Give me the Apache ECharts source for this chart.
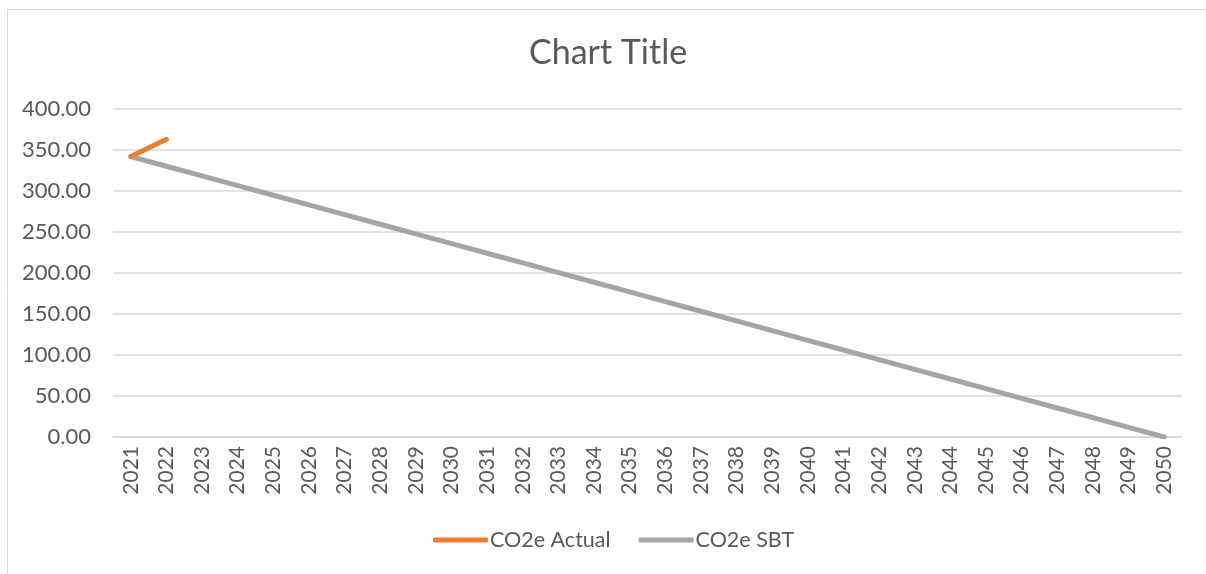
<!DOCTYPE html>
<html><head><meta charset="utf-8">
<script src="https://cdn.jsdelivr.net/npm/echarts@6/dist/echarts.min.js"></script>
<style>html,body{margin:0;padding:0;background:#fff;}#c{width:1206px;height:574px;}</style>
</head><body><div id="c"></div>
<script>
const years = ['2021','2022','2023','2024','2025','2026','2027','2028','2029','2030','2031','2032','2033','2034','2035','2036','2037','2038','2039','2040','2041','2042','2043','2044','2045','2046','2047','2048','2049','2050'];
const co2eActual = [342, 363];
const co2eSBT = [342.00,330.21,318.41,306.62,294.83,283.03,271.24,259.45,247.66,235.86,224.07,212.28,200.48,188.69,176.90,165.10,153.31,141.52,129.72,117.93,106.14,94.34,82.55,70.76,58.97,47.17,35.38,23.59,11.79,0];
const chartTitle = 'Chart Title';
const seriesNames = ['CO2e Actual','CO2e SBT'];

const font = 'Lato, "Open Sans", sans-serif';
const chart = echarts.init(document.getElementById('c'), null, {renderer:'canvas'});
chart.setOption({
  backgroundColor:'#fff',
  animation:false,
  graphic:[{type:'rect',shape:{x:7.5,y:9.5,width:1210,height:580},style:{fill:'none',stroke:'#d9d9d9',lineWidth:1},silent:true}],
  title:{text:chartTitle,left:524,top:31,textStyle:{fontFamily:font,fontSize:34,fontWeight:'normal',color:'#595959'}},
  legend:{bottom:18,left:428,itemWidth:55,itemHeight:5,itemGap:28,icon:'roundRect',
    textStyle:{fontFamily:font,fontSize:21.5,color:'#595959',padding:[0,0,0,-3]},
    data:seriesNames},
  grid:{left:113,right:24,top:109,bottom:137,containLabel:false},
  xAxis:{type:'category',data:years,boundaryGap:true,
    axisLine:{lineStyle:{color:'#d9d9d9',width:1.5}},axisTick:{show:false},
    axisLabel:{rotate:90,interval:0,fontFamily:font,fontSize:21,color:'#595959',margin:9}},
  yAxis:{type:'value',min:0,max:400,interval:50,
    axisLine:{show:false},axisTick:{show:false},
    splitLine:{lineStyle:{color:'#d9d9d9',width:1.5}},
    axisLabel:{fontFamily:font,fontSize:22,color:'#595959',margin:22,formatter:v=>v.toFixed(2)}},
  series:[
    {name:seriesNames[0],type:'line',data:co2eActual,symbol:'none',color:'#ed7d31',lineStyle:{width:5,cap:'round'},z:3},
    {name:seriesNames[1],type:'line',data:co2eSBT,symbol:'none',color:'#a5a5a5',lineStyle:{width:5,cap:'round'},z:2}
  ]
});
</script></body></html>
